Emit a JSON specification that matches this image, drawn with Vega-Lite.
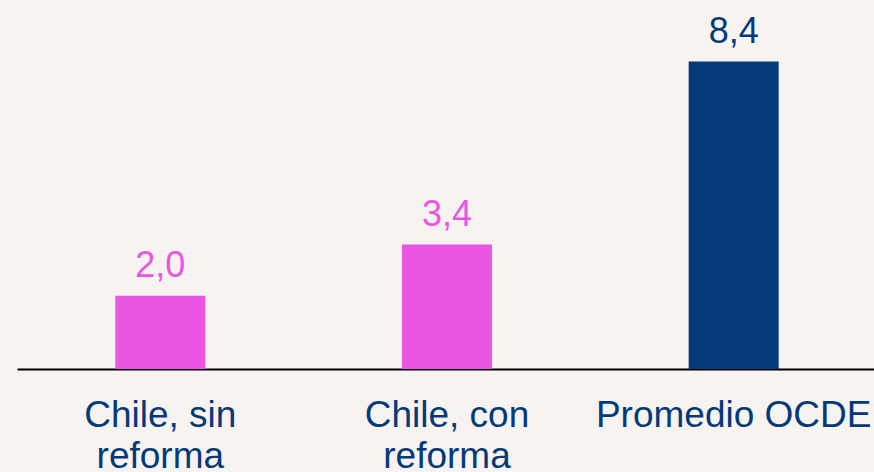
{
  "$schema": "https://vega.github.io/schema/vega-lite/v6.json",
  "width": 860,
  "height": 366,
  "autosize": "none",
  "padding": {"left": 17, "top": 3, "right": 0, "bottom": 103},
  "background": "#F7F3F1",
  "config": {
    "view": {"stroke": null},
    "locale": {"number": {"decimal": ",", "thousands": ".", "grouping": [3], "currency": ["$", ""]}},
    "font": "Liberation Sans"
  },
  "data": {
    "values": [
      {"categoria": "Chile, sin reforma", "valor": 2.0},
      {"categoria": "Chile, con reforma", "valor": 3.4},
      {"categoria": "Promedio OCDE", "valor": 8.4}
    ]
  },
  "encoding": {
    "x": {
      "field": "categoria",
      "type": "nominal",
      "sort": null,
      "scale": {"paddingInner": 0, "paddingOuter": 0},
      "axis": {
        "title": null,
        "labelAngle": 0,
        "ticks": false,
        "tickSize": 0,
        "domainColor": "#000000",
        "domainWidth": 2,
        "labelColor": "#043A7A",
        "labelFont": "Liberation Sans",
        "labelFontSize": 37,
        "labelPadding": 28,
        "labelBaseline": "top",
        "labelLineHeight": 41,
        "labelLimit": 400,
        "labelExpr": "indexof(datum.label,' reforma') > 0 ? [replace(datum.label,' reforma',''), 'reforma'] : datum.label"
      }
    },
    "y": {
      "field": "valor",
      "type": "quantitative",
      "scale": {"domain": [0, 10]},
      "axis": null
    },
    "color": {
      "field": "categoria",
      "type": "nominal",
      "scale": {
        "domain": ["Chile, sin reforma", "Chile, con reforma", "Promedio OCDE"],
        "range": ["#EA55E3", "#EA55E3", "#043A7A"]
      },
      "legend": null
    }
  },
  "layer": [
    {"mark": {"type": "bar", "size": 90}},
    {
      "mark": {"type": "text", "baseline": "alphabetic", "dy": -19, "font": "Liberation Sans", "fontSize": 36},
      "encoding": {"text": {"field": "valor", "type": "quantitative", "format": ".1f"}}
    }
  ]
}
